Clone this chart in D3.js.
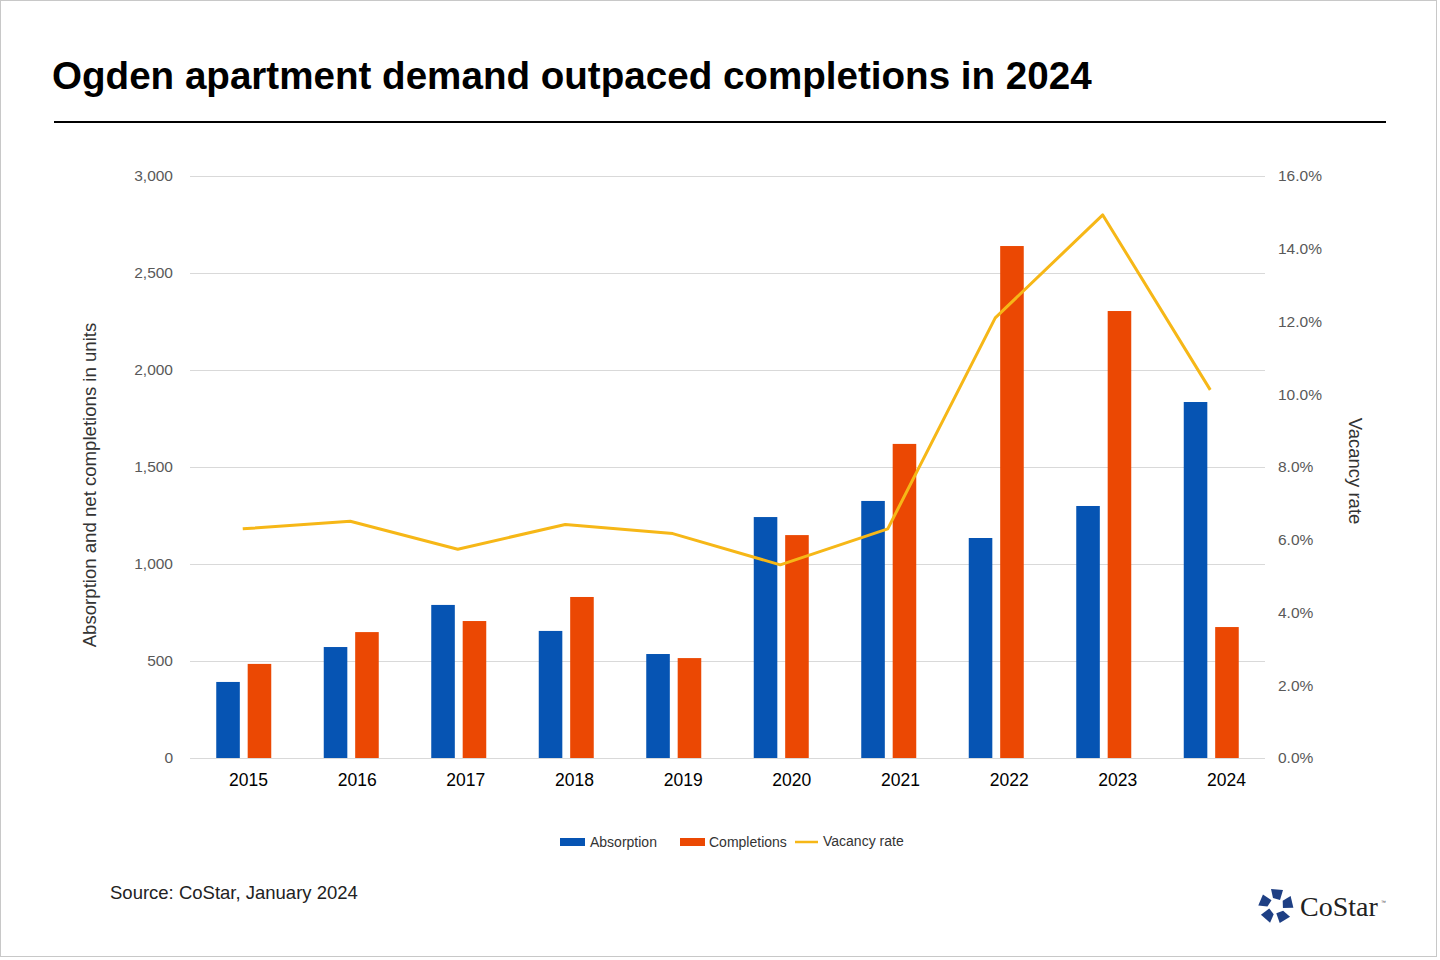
<!DOCTYPE html>
<html><head><meta charset="utf-8">
<script src="https://cdn.jsdelivr.net/npm/d3@7"></script>
<style>
html,body{margin:0;padding:0;background:#fff;}
svg{display:block;font-family:"Liberation Sans",Arial,sans-serif;}
</style></head>
<body>
<svg id="chart" width="1440" height="960"></svg>
<script>
const years = ["2015","2016","2017","2018","2019","2020","2021","2022","2023","2024"];
const absorption = [392, 572, 789, 655, 536, 1242, 1325, 1134, 1299, 1835];
const completions = [485, 649, 706, 830, 515, 1149, 1619, 2639, 2304, 675];
const vacancy = [6.30, 6.51, 5.74, 6.42, 6.17, 5.31, 6.30, 12.10, 14.93, 10.12];
const leftTicks = [0, 500, 1000, 1500, 2000, 2500, 3000];
const rightTicks = [0, 2, 4, 6, 8, 10, 12, 14, 16];
const seriesNames = ["Absorption", "Completions", "Vacancy rate"];

const svg = d3.select("#chart");
const W = 1440, H = 960;
const plot = {left: 190, right: 1265, top: 176, bottom: 758};
const colors = {abs: "#0654b3", comp: "#eb4803", vac: "#f6b717"};

svg.append("rect").attr("x",0.5).attr("y",0.5).attr("width",W-4).attr("height",H-4)
  .attr("fill","#fff").attr("stroke","#c8c8c8");

svg.append("text").attr("x",52).attr("y",89).attr("font-size",38.6).attr("font-weight","bold")
  .attr("fill","#000").text("Ogden apartment demand outpaced completions in 2024");
svg.append("line").attr("x1",54).attr("x2",1386).attr("y1",122).attr("y2",122)
  .attr("stroke","#000").attr("stroke-width",2);

const x = d3.scaleBand().domain(years).range([plot.left, plot.right]).paddingInner(0).paddingOuter(0);
const xs = d3.scaleBand().domain(["abs","comp"]).range([0, 55]).paddingInner(0.25);
const xl = d3.scalePoint().domain(years).range([248, 1226]);
const y = d3.scaleLinear().domain([0, 3000]).range([plot.bottom, plot.top]);
const y2 = d3.scaleLinear().domain([0, 16]).range([plot.bottom, plot.top]);

// gridlines
svg.append("g").selectAll("line").data(leftTicks).join("line")
  .attr("x1", plot.left).attr("x2", plot.right)
  .attr("y1", d => Math.round(y(d))+0.5).attr("y2", d => Math.round(y(d))+0.5)
  .attr("stroke", "#d9d9d9").attr("stroke-width",1);

// left axis
const gl = svg.append("g").attr("transform",`translate(${plot.left},0)`)
  .call(d3.axisLeft(y).tickValues(leftTicks).tickFormat(d3.format(",")).tickSize(0).tickPadding(17));
gl.select(".domain").remove();
gl.selectAll("text").attr("font-size",15.5).attr("fill","#595959").attr("font-family","Liberation Sans, Arial, sans-serif");

// right axis
const gr = svg.append("g").attr("transform",`translate(${plot.right},0)`)
  .call(d3.axisRight(y2).tickValues(rightTicks).tickFormat(d => d.toFixed(1)+"%").tickSize(0).tickPadding(13));
gr.select(".domain").remove();
gr.selectAll("text").attr("font-size",15.5).attr("fill","#595959").attr("font-family","Liberation Sans, Arial, sans-serif");

// x axis labels
const gx = svg.append("g").attr("transform",`translate(0,${plot.bottom})`)
  .call(d3.axisBottom(xl).tickSize(0).tickPadding(16));
gx.select(".domain").remove();
gx.selectAll("text").attr("font-size",17.5).attr("fill","#000").attr("font-family","Liberation Sans, Arial, sans-serif");

// bars
const data = years.map((yr,i) => ({yr, abs: absorption[i], comp: completions[i]}));
const groups = svg.append("g").selectAll("g").data(data).join("g")
  .attr("transform", d => `translate(${x(d.yr) + (x.bandwidth()-55)/2},0)`);
groups.selectAll("rect").data(d => [{k:"abs", v:d.abs},{k:"comp", v:d.comp}]).join("rect")
  .attr("x", d => xs(d.k)).attr("width", xs.bandwidth())
  .attr("y", d => y(d.v)).attr("height", d => y(0) - y(d.v))
  .attr("fill", d => colors[d.k]);

// vacancy line
const line = d3.line().x((d,i) => x(years[i]) + x.bandwidth()/2 - 1).y(d => y2(d));
svg.append("path").datum(vacancy).attr("d", line).attr("fill","none")
  .attr("stroke", colors.vac).attr("stroke-width",3).attr("stroke-linejoin","round");

// axis titles
svg.append("text").attr("transform","translate(96,485) rotate(-90)").attr("text-anchor","middle")
  .attr("font-size",18.6).attr("fill","#333").text("Absorption and net completions in units");
svg.append("text").attr("transform","translate(1349,471) rotate(90)").attr("text-anchor","middle")
  .attr("font-size",18.5).attr("fill","#333").text("Vacancy rate");

// legend
const lg = svg.append("g");
lg.append("rect").attr("x",560).attr("y",838).attr("width",25).attr("height",8).attr("fill",colors.abs);
lg.append("text").attr("x",590).attr("y",847).attr("font-size",14).attr("fill","#333").text(seriesNames[0]);
lg.append("rect").attr("x",680).attr("y",838).attr("width",25).attr("height",8).attr("fill",colors.comp);
lg.append("text").attr("x",709).attr("y",847).attr("font-size",14).attr("fill","#333").text(seriesNames[1]);
lg.append("line").attr("x1",795).attr("x2",818).attr("y1",842).attr("y2",842).attr("stroke",colors.vac).attr("stroke-width",2.5);
lg.append("text").attr("x",823).attr("y",846).attr("font-size",14).attr("fill","#333").text(seriesNames[2]);

// source
svg.append("text").attr("x",110).attr("y",899).attr("font-size",18.5).attr("fill","#222").text("Source: CoStar, January 2024");

// logo
const logo = svg.append("g").attr("transform","translate(1276,906)");
const petals = d3.range(5);
logo.selectAll("path").data(petals).join("path")
  .attr("d","M -5 -17 L 7 -16 L 4 -6 L -3 -8 Z")
  .attr("transform", d => `rotate(${d*72})`)
  .attr("fill","#1e3f84");
logo.append("text").attr("x",24).attr("y",10).attr("font-family","Liberation Serif, Times New Roman, serif")
  .attr("font-size",28).attr("fill","#222").text("CoStar");
logo.append("text").attr("x",105).attr("y",-2).attr("font-size",5).attr("fill","#444").text("™");
</script>
</body></html>
